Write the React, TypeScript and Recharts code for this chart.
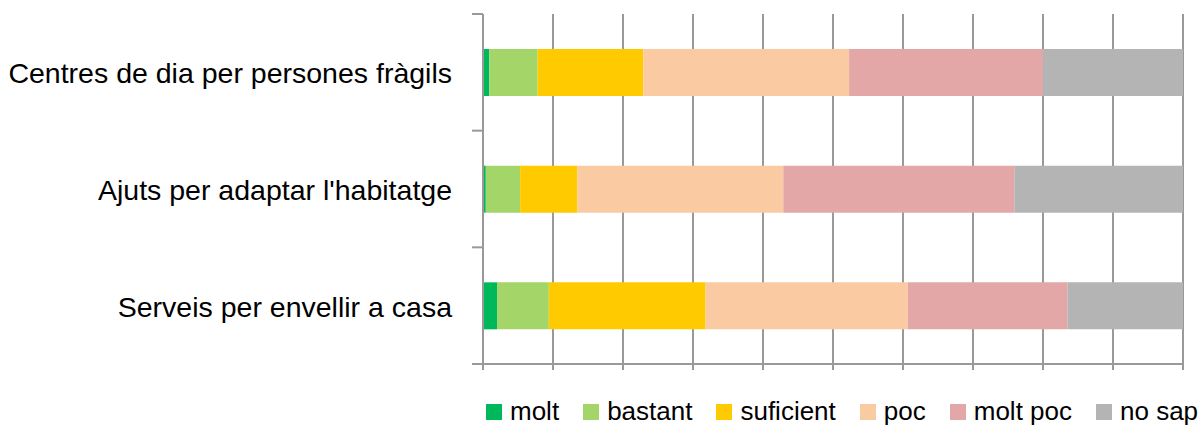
import React from "react";
import {
  BarChart,
  Bar,
  XAxis,
  YAxis,
  CartesianGrid,
} from "recharts";

const categories = [
  "Centres de dia per persones fràgils",
  "Ajuts per adaptar l'habitatge",
  "Serveis per envellir a casa",
];

const molt = [0.9, 0.4, 2.0];
const bastant = [6.9, 4.9, 7.4];
const suficient = [15.1, 8.2, 22.4];
const poc = [29.4, 29.4, 28.9];
const moltPoc = [27.7, 33.0, 22.8];
const noSap = [20.0, 24.1, 16.5];

const seriesNames = ["molt", "bastant", "suficient", "poc", "molt poc", "no sap"];
const seriesColors = ["#00B85C", "#A3D568", "#FFCB00", "#FACBA3", "#E2A7A6", "#B4B4B4"];
const seriesValues = [molt, bastant, suficient, poc, moltPoc, noSap];

const xTicks = [0, 10, 20, 30, 40, 50, 60, 70, 80, 90, 100];

const data = categories.map((name, i) => {
  const row: Record<string, string | number> = { name };
  seriesNames.forEach((s, k) => {
    row[s] = seriesValues[k][i];
  });
  return row;
});

const FONT = "'Liberation Sans', Arial, Helvetica, sans-serif";
const AXIS = "#999999";
const LINE_W = 2;
const TICK_LEN = 11;
const LABEL_GAP = 31;

// label plus Excel-style tick marks on the category boundaries
function CategoryTick({ x, y, payload, index }: any) {
  const half = payload?.offset ?? 0;
  const axisX = x + LABEL_GAP;
  const last = index === categories.length - 1;
  return (
    <g>
      <line x1={axisX - TICK_LEN} x2={axisX} y1={y - half} y2={y - half} stroke={AXIS} strokeWidth={LINE_W} />
      {last && (
        <line x1={axisX - TICK_LEN} x2={axisX} y1={y + half} y2={y + half} stroke={AXIS} strokeWidth={LINE_W} />
      )}
      <text
        x={x}
        y={y}
        dy={11}
        textAnchor="end"
        fontSize={28.5}
        fontFamily={FONT}
        fill="#000"
      >
        {payload.value}
      </text>
    </g>
  );
}

const blank = () => "";

function ChartLegend() {
  return (
    <div
      style={{
        position: "absolute",
        left: 486,
        top: 398,
        whiteSpace: "nowrap",
        fontFamily: FONT,
        fontSize: 26,
        lineHeight: "26px",
        color: "#000",
      }}
    >
      {seriesNames.map((s, k) => (
        <span key={s} style={{ marginRight: 24 }}>
          <span
            style={{
              display: "inline-block",
              width: 16,
              height: 16,
              background: seriesColors[k],
              marginRight: 8,
            }}
          />
          {s}
        </span>
      ))}
    </div>
  );
}

export default function App() {
  return (
    <div style={{ position: "relative", width: 1203, height: 425, overflow: "hidden", background: "#fff" }}>
      <style>{`body{margin:0}`}</style>
      <BarChart
        width={1203}
        height={425}
        data={data}
        layout="vertical"
        margin={{ top: 14, right: 20, left: 0, bottom: 31 }}
        barSize={47}
      >
        <CartesianGrid
          horizontal={false}
          stroke={AXIS}
          strokeWidth={LINE_W}
        />
        <XAxis
          type="number"
          domain={[0, 100]}
          ticks={xTicks}
          tickFormatter={blank}
          tickSize={6}
          height={30}
          axisLine={{ stroke: AXIS, strokeWidth: LINE_W }}
          tickLine={{ stroke: AXIS, strokeWidth: LINE_W }}
        />
        <YAxis
          type="category"
          dataKey="name"
          width={483}
          tickLine={false}
          tickSize={0}
          tickMargin={LABEL_GAP}
          tick={<CategoryTick />}
          axisLine={{ stroke: AXIS, strokeWidth: LINE_W }}
        />
        {seriesNames.map((s, k) => (
          <Bar
            key={s}
            dataKey={s}
            stackId="a"
            fill={seriesColors[k]}
            isAnimationActive={false}
          />
        ))}
      </BarChart>
      <ChartLegend />
    </div>
  );
}
